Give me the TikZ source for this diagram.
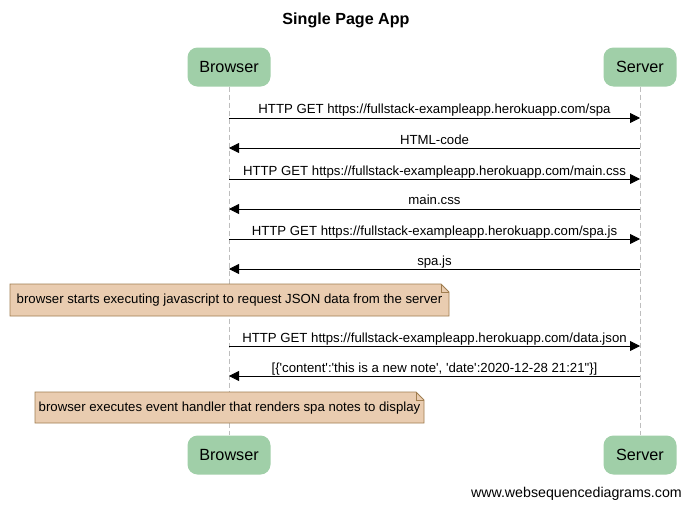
\documentclass[tikz,border=0pt]{standalone}
\usepackage{fontspec}
\setmainfont{Liberation Sans}[Ligatures=TeXOff]
\usetikzlibrary{arrows.meta,shapes.misc,calc}
\definecolor{partfill}{RGB}{160,207,168}
\definecolor{notefill}{RGB}{233,204,176}
\definecolor{notedraw}{RGB}{160,126,80}
\definecolor{lifegray}{RGB}{190,190,190}
\tikzset{
  part/.style={draw=none, fill=partfill, rounded corners=10pt, minimum width=#1, minimum height=39pt, inner sep=0pt, font=\fontsize{16.2}{18}\selectfont},
  part/.default=83pt,
  life/.style={draw=lifegray, dash pattern=on 5pt off 3pt, line width=0.8pt},
  msg/.style={draw=black, line width=0.8pt, -{Triangle[length=10pt,width=10pt]}},
  lbl/.style={font=\fontsize{13.2}{15}\selectfont, inner sep=0pt, anchor=base},
  notetext/.style={font=\fontsize{13.2}{15}\selectfont, inner sep=0pt},
  notebox/.style={draw=notedraw, fill=notefill, line width=0.8pt}
}
\newcommand{\sq}{\char39\relax}
\begin{document}
\begin{tikzpicture}[x=1pt,y=-1pt]
\useasboundingbox[fill=white] (0,0) rectangle (691,509);
\node[font=\bfseries\fontsize{16.1}{18}\selectfont] (title) at (346,20) {Single Page App};
% participants
\node[part=83pt] (bt) at (229,67) {Browser};
\node[part=73pt] (st) at (640,67) {Server};
\node[part=83pt] (bb) at (229,455) {Browser};
\node[part=73pt] (sb) at (640,455) {Server};
\draw[life] (bt.south) -- (bb.north);
\draw[life] (st.south) -- (sb.north);
% message coordinates
\foreach \n/\y in {1/118,2/148,3/179,4/209,5/239,6/269,7/346,8/376}{
  \coordinate (b\n) at (229,\y);
  \coordinate (s\n) at (640,\y);
}
\draw[msg] (b1) -- (s1);
\node[lbl] (l1) at ($(b1)!0.5!(s1)+(0,-5)$) {HTTP GET https://fullstack-exampleapp.herokuapp.com/spa};
\draw[msg] (s2) -- (b2);
\node[lbl] (l2) at ($(b2)!0.5!(s2)+(0,-4)$) {HTML-code};
\draw[msg] (b3) -- (s3);
\node[lbl] (l3) at ($(b3)!0.5!(s3)+(0,-4)$) {HTTP GET https://fullstack-exampleapp.herokuapp.com/main.css};
\draw[msg] (s4) -- (b4);
\node[lbl] (l4) at ($(b4)!0.5!(s4)+(0,-5)$) {main.css};
\draw[msg] (b5) -- (s5);
\node[lbl] (l5) at ($(b5)!0.5!(s5)+(0,-4)$) {HTTP GET https://fullstack-exampleapp.herokuapp.com/spa.js};
\draw[msg] (s6) -- (b6);
\node[lbl] (l6) at ($(b6)!0.5!(s6)+(0,-4)$) {spa.js};
% note 1
\draw[notebox] (10,284) -- (441,284) -- (449,292) -- (449,316) -- (10,316) -- cycle;
\draw[notedraw, line width=0.8pt] (441,284) -- (441,292) -- (449,292);
\node[notetext] (n1) at (229.5,300) {browser starts executing javascript to request JSON data from the server};
\draw[msg] (b7) -- (s7);
\node[lbl] (l7) at ($(b7)!0.5!(s7)+(0,-4)$) {HTTP GET https://fullstack-exampleapp.herokuapp.com/data.json};
\draw[msg] (s8) -- (b8);
\node[lbl] (l8) at ($(b8)!0.5!(s8)+(0,-4)$) {[\{\sq content\sq:\sq this is a new note\sq, \sq date\sq:2020-12-28 21:21"\}]};
% note 2
\draw[notebox] (35,392) -- (416,392) -- (424,400) -- (424,423) -- (35,423) -- cycle;
\draw[notedraw, line width=0.8pt] (416,392) -- (416,400) -- (424,400);
\node[notetext] (n2) at (229.5,408) {browser executes event handler that renders spa notes to display};
% footer
\node[font=\fontsize{14.2}{16}\selectfont, anchor=east, inner sep=0pt] (foot) at (682,494) {www.websequencediagrams.com};
\end{tikzpicture}
\end{document}
